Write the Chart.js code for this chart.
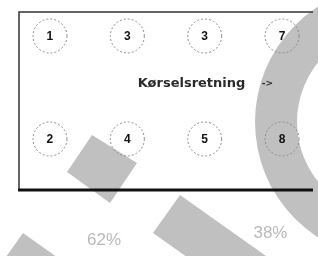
<!DOCTYPE html>
<html>
<head>
<meta charset="utf-8">
<script src="https://cdn.jsdelivr.net/npm/chart.js@4/dist/chart.umd.min.js"></script>
<style>
  html, body { margin: 0; padding: 0; background: #fff; }
  canvas { display: block; }
</style>
</head>
<body>
<canvas id="seats" width="318" height="256"></canvas>
<script>
// ── Data ─────────────────────────────────────────────────────────────
var seatNumbers = [1, 3, 3, 7, 2, 4, 5, 8];
var seatColumns = [1, 2, 3, 4, 1, 2, 3, 4];
var seatRows    = [2, 2, 2, 2, 1, 1, 1, 1];
var directionLabel = ["Kørselsretning", "->"];
var shareLabels = ["62%", "38%"];
var shareColumns = [1.7, 3.85];

(function () {
  "use strict";

  var points = seatNumbers.map(function (n, i) {
    return { x: seatColumns[i], y: seatRows[i] };
  });

  // grey shapes lying under the chart
  var backdrop = {
    id: "backdrop",
    beforeDraw: function (chart) {
      var ctx = chart.ctx;
      ctx.save();
      ctx.fillStyle = "#c0c0c0";
      ctx.beginPath();
      ctx.arc(392, 122, 137, 0, Math.PI * 2);
      ctx.arc(392, 122, 95, 0, Math.PI * 2, true);
      ctx.fill("evenodd");
      function quad(p) {
        ctx.beginPath();
        ctx.moveTo(p[0], p[1]);
        for (var i = 2; i < p.length; i += 2) ctx.lineTo(p[i], p[i + 1]);
        ctx.closePath();
        ctx.fill();
      }
      quad([92, 135, 137, 163, 110, 203, 67, 172]);
      quad([180, 195, 290, 273, 263, 311, 153, 233]);
      quad([23, 233, 133, 311, 106, 349, -4, 271]);
      ctx.restore();
    },
    beforeDatasetsDraw: function (chart) {
      chart.ctx.save();
      chart.ctx.setLineDash([2, 2]);
    },
    afterDatasetsDraw: function (chart) {
      var ctx = chart.ctx;
      ctx.restore();
      var meta = chart.getDatasetMeta(0);
      ctx.save();
      ctx.fillStyle = "#111";
      ctx.font = "bold 12px 'Liberation Sans', Arial, sans-serif";
      ctx.textAlign = "center";
      ctx.textBaseline = "middle";
      meta.data.forEach(function (el, i) {
        ctx.fillText(String(seatNumbers[i]), el.x, el.y + 1);
      });
      ctx.restore();
    },
    afterDraw: function (chart) {
      var ctx = chart.ctx;
      var a = chart.chartArea;
      var xs = chart.scales.x, ys = chart.scales.y;
      ctx.save();
      // frame
      ctx.strokeStyle = "#333";
      ctx.lineWidth = 1.5;
      ctx.beginPath();
      ctx.moveTo(a.left, a.bottom);
      ctx.lineTo(a.left, a.top);
      ctx.lineTo(a.right, a.top);
      ctx.stroke();
      ctx.strokeStyle = "#111";
      ctx.lineWidth = 3;
      ctx.beginPath();
      ctx.moveTo(a.left - 1, a.bottom);
      ctx.lineTo(a.right, a.bottom);
      ctx.stroke();
      // direction text
      ctx.fillStyle = "#2a2a2a";
      ctx.textAlign = "center";
      ctx.textBaseline = "middle";
      ctx.font = "bold 13px 'DejaVu Sans', sans-serif";
      ctx.fillText(directionLabel[0], xs.getPixelForValue(2.83), ys.getPixelForValue(1.535));
      ctx.font = "bold 9px 'DejaVu Sans', sans-serif";
      ctx.fillText(directionLabel[1], xs.getPixelForValue(3.81), ys.getPixelForValue(1.535));
      // shares
      ctx.fillStyle = "#b8b8b8";
      ctx.font = "17px 'Liberation Sans', Arial, sans-serif";
      ctx.fillText(shareLabels[0], xs.getPixelForValue(shareColumns[0]), ys.getPixelForValue(0.02));
      ctx.fillText(shareLabels[1], xs.getPixelForValue(shareColumns[1]), ys.getPixelForValue(0.08));
      ctx.restore();
    }
  };

  new Chart(document.getElementById("seats").getContext("2d"), {
    type: "scatter",
    data: {
      datasets: [{
        data: points,
        pointRadius: 17,
        pointHoverRadius: 17,
        pointBorderWidth: 1,
        pointBorderColor: "#8c8c8c",
        pointBackgroundColor: "rgba(0,0,0,0)"
      }]
    },
    options: {
      responsive: false,
      animation: false,
      layout: { autoPadding: false, padding: { left: 19, top: 12, right: 5, bottom: 66 } },
      plugins: {
        legend: { display: false },
        tooltip: { enabled: false }
      },
      scales: {
        x: { type: "linear", display: false, min: 0.6, max: 4.4 },
        y: { type: "linear", display: false, min: 0.505, max: 2.233 }
      }
    },
    plugins: [backdrop]
  });
})();
</script>
</body>
</html>
